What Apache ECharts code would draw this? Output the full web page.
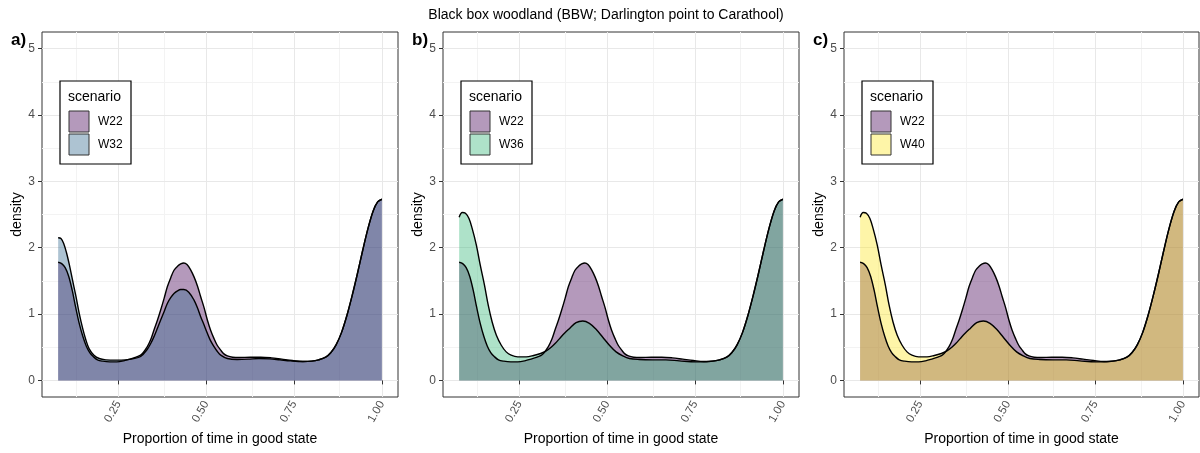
<!DOCTYPE html>
<html>
<head>
<meta charset="utf-8">
<script src="https://cdn.jsdelivr.net/npm/echarts@6/dist/echarts.min.js"></script>
<style>
  html, body { margin: 0; padding: 0; background: #ffffff; }
  #chart { width: 1200px; height: 453px; }
</style>
</head>
<body>
<div id="chart"></div>
<script>
// Density curves of the proportion of time in good state, per water scenario
const w22X = [0.078,0.088,0.098,0.108,0.118,0.128,0.138,0.148,0.158,0.168,0.178,0.190,0.205,0.225,0.245,0.265,0.285,0.300,0.315,0.332,0.342,0.351,0.361,0.370,0.380,0.389,0.399,0.408,0.418,0.427,0.436,0.445,0.455,0.465,0.475,0.484,0.494,0.503,0.512,0.522,0.531,0.541,0.550,0.560,0.575,0.595,0.625,0.655,0.685,0.715,0.745,0.775,0.800,0.820,0.840,0.855,0.870,0.885,0.900,0.915,0.930,0.945,0.960,0.975,0.988,1.000];
const w22Y = [1.78,1.76,1.70,1.57,1.36,1.10,0.86,0.67,0.52,0.42,0.36,0.31,0.29,0.28,0.28,0.295,0.325,0.35,0.39,0.51,0.62,0.76,0.91,1.06,1.24,1.41,1.55,1.66,1.72,1.755,1.77,1.745,1.67,1.56,1.42,1.26,1.09,0.91,0.76,0.63,0.53,0.456,0.40,0.37,0.35,0.345,0.35,0.35,0.34,0.32,0.30,0.285,0.29,0.31,0.35,0.42,0.54,0.72,0.97,1.27,1.60,1.95,2.28,2.55,2.69,2.73];

const w32X = [0.078,0.086,0.094,0.102,0.110,0.119,0.129,0.138,0.148,0.157,0.166,0.180,0.195,0.214,0.242,0.271,0.290,0.313,0.332,0.342,0.351,0.361,0.370,0.380,0.389,0.399,0.408,0.418,0.427,0.436,0.450,0.465,0.475,0.484,0.494,0.503,0.512,0.522,0.531,0.541,0.560,0.588,0.620,0.650,0.680,0.710,0.740,0.775,0.800,0.820,0.840,0.855,0.870,0.885,0.900,0.915,0.930,0.945,0.960,0.975,0.988,1.000];
const w32Y = [2.15,2.14,2.06,1.92,1.74,1.51,1.26,1.01,0.78,0.61,0.48,0.38,0.33,0.31,0.305,0.31,0.325,0.36,0.47,0.56,0.66,0.79,0.91,1.04,1.16,1.25,1.31,1.35,1.37,1.37,1.33,1.21,1.09,0.96,0.83,0.71,0.60,0.51,0.44,0.38,0.33,0.315,0.32,0.33,0.325,0.31,0.295,0.285,0.29,0.31,0.35,0.42,0.54,0.72,0.97,1.27,1.60,1.95,2.28,2.55,2.69,2.73];

const w36X = [0.078,0.087,0.096,0.106,0.115,0.127,0.138,0.150,0.161,0.172,0.184,0.198,0.212,0.226,0.245,0.269,0.290,0.310,0.325,0.340,0.352,0.364,0.378,0.392,0.411,0.430,0.449,0.468,0.487,0.506,0.525,0.544,0.563,0.591,0.629,0.667,0.705,0.752,0.790,0.820,0.840,0.855,0.870,0.885,0.900,0.915,0.930,0.945,0.960,0.975,0.988,1.000];
const w36Y = [2.46,2.53,2.52,2.44,2.29,2.04,1.74,1.44,1.13,0.88,0.68,0.53,0.43,0.38,0.355,0.355,0.375,0.405,0.44,0.50,0.56,0.63,0.71,0.78,0.87,0.895,0.86,0.77,0.65,0.53,0.43,0.37,0.33,0.315,0.31,0.31,0.295,0.28,0.285,0.31,0.35,0.42,0.54,0.72,0.97,1.27,1.60,1.95,2.28,2.55,2.69,2.73];

const w40X = w36X.slice();
const w40Y = [2.46,2.53,2.52,2.44,2.29,2.04,1.74,1.44,1.13,0.88,0.68,0.53,0.43,0.38,0.355,0.355,0.375,0.405,0.44,0.50,0.56,0.63,0.71,0.78,0.87,0.895,0.86,0.77,0.65,0.53,0.43,0.37,0.33,0.315,0.31,0.31,0.295,0.28,0.285,0.31,0.35,0.42,0.54,0.72,0.97,1.27,1.60,1.95,2.28,2.55,2.69,2.73];

const xTicks = [0.25, 0.50, 0.75, 1.00];
const xTickLabels = ['0.25', '0.50', '0.75', '1.00'];
const yTicks = [0, 1, 2, 3, 4, 5];
const yTickLabels = ['0', '1', '2', '3', '4', '5'];
const xMinorGrid = [0.125, 0.375, 0.625, 0.875];
const yMinorGrid = [0.5, 1.5, 2.5, 3.5, 4.5];

const panelTags = ['a)', 'b)', 'c)'];
const otherScenario = ['W32', 'W36', 'W40'];
const scenarioData = {
  W22: [w22X, w22Y],
  W32: [w32X, w32Y],
  W36: [w36X, w36Y],
  W40: [w40X, w40Y]
};
const scenarioColor = {
  W22: '#440154',
  W32: '#31688E',
  W36: '#35B779',
  W40: '#FDE725'
};

const FONT = '"Liberation Sans", Arial, sans-serif';
const FILL_OPACITY = 0.4;
const TOP_Z = 100;

function rgba(hex, a) {
  const n = parseInt(hex.slice(1), 16);
  return 'rgba(' + ((n >> 16) & 255) + ',' + ((n >> 8) & 255) + ',' + (n & 255) + ',' + a + ')';
}
function pairs(xs, ys) {
  return xs.map((x, i) => [x, ys[i]]);
}

const gridBoxes = [
  { left: 42, top: 32, width: 356, height: 365 },
  { left: 443, top: 32, width: 356, height: 365 },
  { left: 844, top: 32, width: 355, height: 365 }
];

const grids = [], xAxes = [], yAxes = [], series = [], graphics = [];

gridBoxes.forEach((g, i) => {
  grids.push(Object.assign({
    show: true, borderColor: '#333333', borderWidth: 1,
    backgroundColor: 'transparent', containLabel: false
  }, g));

  xAxes.push({
    type: 'value', gridIndex: i, min: 0.032, max: 1.046,
    axisLine: { show: false },
    splitLine: { show: false },
    axisTick: { show: true, customValues: xTicks, length: 4, lineStyle: { color: '#333333' } },
    axisLabel: {
      customValues: xTicks, rotate: 60, margin: 5,
      color: '#4d4d4d', fontSize: 11.5, fontFamily: FONT,
      formatter: v => xTickLabels[xTicks.findIndex(t => Math.abs(t - v) < 1e-9)]
    },
    name: 'Proportion of time in good state',
    nameLocation: 'middle', nameGap: 33,
    nameTextStyle: { fontSize: 14, color: '#000', fontFamily: FONT }
  });

  yAxes.push({
    type: 'value', gridIndex: i, min: -0.25, max: 5.25,
    axisLine: { show: false },
    splitLine: { show: false },
    axisTick: { show: true, customValues: yTicks, length: 4, lineStyle: { color: '#333333' } },
    axisLabel: {
      customValues: yTicks, margin: 7,
      color: '#4d4d4d', fontSize: 12, fontFamily: FONT,
      formatter: v => yTickLabels[yTicks.indexOf(Math.round(v))]
    },
    name: 'density',
    nameLocation: 'middle', nameGap: 17, nameRotate: 90,
    nameTextStyle: { fontSize: 14, color: '#000', fontFamily: FONT }
  });

  // panel grid lines (major and minor), kept beneath the density areas
  const lines = [];
  xMinorGrid.forEach(v => lines.push({ xAxis: v, lineStyle: { color: '#f3f3f3', width: 1, type: 'solid' } }));
  yMinorGrid.forEach(v => lines.push({ yAxis: v, lineStyle: { color: '#f3f3f3', width: 1, type: 'solid' } }));
  xTicks.forEach(v => lines.push({ xAxis: v, lineStyle: { color: '#e8e8e8', width: 1, type: 'solid' } }));
  yTicks.forEach(v => lines.push({ yAxis: v, lineStyle: { color: '#e8e8e8', width: 1, type: 'solid' } }));
  series.push({
    type: 'line', xAxisIndex: i, yAxisIndex: i, z: 0,
    data: [[0.5, -10]], symbol: 'none', lineStyle: { opacity: 0 },
    silent: true,
    markLine: {
      z: 0, silent: true, symbol: ['none', 'none'], label: { show: false },
      lineStyle: { type: 'solid' },
      emphasis: { disabled: true },
      animation: false, data: lines
    }
  });

  ['W22', otherScenario[i]].forEach(name => {
    const [xs, ys] = scenarioData[name];
    series.push({
      name: name + '_' + i,
      type: 'line', xAxisIndex: i, yAxisIndex: i, z: 3,
      data: pairs(xs, ys),
      smooth: 0.35,
      symbol: 'none',
      lineStyle: { color: '#000000', width: 1.4 },
      itemStyle: { color: scenarioColor[name] },
      areaStyle: { color: scenarioColor[name], opacity: FILL_OPACITY },
      silent: true
    });
  });

  // panel tag
  graphics.push({
    type: 'text', left: g.left - 31, top: 32, z: TOP_Z,
    style: { text: panelTags[i], font: 'bold 17px ' + FONT, fill: '#000' }
  });

  // legend box
  const lx = g.left + 18, ly = 81;
  const keys = ['W22', otherScenario[i]];
  graphics.push({
    type: 'rect', x: lx, y: ly, z: TOP_Z,
    shape: { x: 0, y: 0, width: 71, height: 83 },
    style: { fill: '#ffffff', stroke: '#000000', lineWidth: 1.2 }
  });
  graphics.push({
    type: 'text', x: lx + 8, y: ly + 16, z: TOP_Z + 1,
    style: { text: 'scenario', font: '14px ' + FONT, fill: '#000', verticalAlign: 'middle' }
  });
  keys.forEach((k, j) => {
    graphics.push({
      type: 'rect', x: lx, y: ly, z: TOP_Z + 1,
      shape: { x: 9, y: 30 + j * 23, width: 20, height: 21 },
      style: { fill: rgba(scenarioColor[k], FILL_OPACITY), stroke: '#333333', lineWidth: 1 }
    });
    graphics.push({
      type: 'text', x: lx + 38, y: ly + 41 + j * 23, z: TOP_Z + 1,
      style: { text: k, font: '12px ' + FONT, fill: '#000', verticalAlign: 'middle' }
    });
  });
});

graphics.push({
  type: 'text', x: 606, y: 15, z: TOP_Z,
  style: {
    text: 'Black box woodland (BBW; Darlington point to Carathool)',
    font: '14px ' + FONT, fill: '#000', align: 'center', verticalAlign: 'middle'
  }
});

const chart = echarts.init(document.getElementById('chart'), null, { renderer: 'canvas' });
chart.setOption({
  animation: false,
  backgroundColor: '#ffffff',
  grid: grids,
  xAxis: xAxes,
  yAxis: yAxes,
  series: series,
  graphic: { elements: graphics }
});
</script>
</body>
</html>
